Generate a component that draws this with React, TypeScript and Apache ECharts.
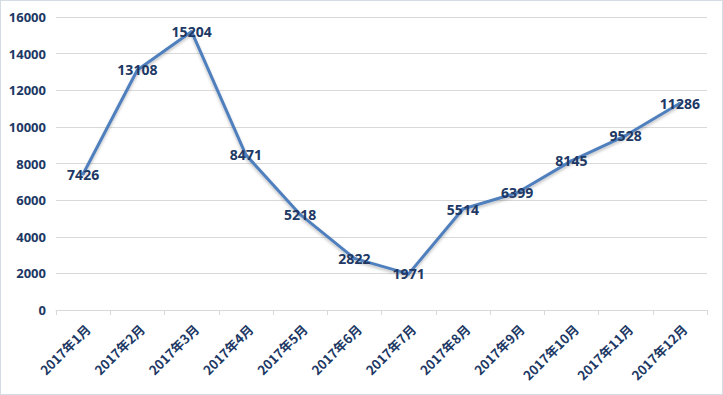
import React, { useEffect, useRef } from "react";
import * as echarts from "echarts";

const categories = ["2017年1月", "2017年2月", "2017年3月", "2017年4月", "2017年5月", "2017年6月", "2017年7月", "2017年8月", "2017年9月", "2017年10月", "2017年11月", "2017年12月"];
const values = [7426, 13108, 15204, 8471, 5218, 2822, 1971, 5514, 6399, 8145, 9528, 11286];

export default function App() {
  const ref = useRef<HTMLDivElement>(null);
  useEffect(() => {
    document.body.style.margin = "0";
    const chart = echarts.init(ref.current!, null, { renderer: "svg" });
    const textColor = "#203864";
    chart.setOption({
      animation: false,
      backgroundColor: "#ffffff",
      grid: { left: 55, right: 15, top: 16, bottom: 84, containLabel: false },
      xAxis: {
        type: "category",
        data: categories,
        boundaryGap: true,
        axisLine: { lineStyle: { color: "#d9d9d9", width: 1 } },
        axisTick: { show: true, alignWithLabel: false, length: 5, lineStyle: { color: "#d9d9d9" } },
        axisLabel: {
          rotate: 45,
          interval: 0,
          color: textColor,
          fontWeight: "bold",
          fontSize: 13,
          fontFamily: "Noto Sans CJK SC, sans-serif",
          margin: 12,
          verticalAlign: "top",
        },
      },
      yAxis: {
        type: "value",
        min: 0,
        max: 16000,
        interval: 2000,
        axisLine: { show: false },
        axisTick: { show: false },
        splitLine: { lineStyle: { color: "#d9d9d9", width: 1 } },
        axisLabel: {
          color: textColor,
          fontWeight: "bold",
          fontSize: 13,
          fontFamily: "Noto Sans, sans-serif",
          margin: 10,
          formatter: (v: number) => String(v),
        },
      },
      series: [
        {
          type: "line",
          data: values,
          symbol: "circle",
          symbolSize: 3,
          showSymbol: true,
          itemStyle: { color: "#4f7fbd" },
          lineStyle: {
            color: "#4f7fbd",
            width: 3,
            shadowColor: "rgba(0,0,0,0.25)",
            shadowBlur: 3,
            shadowOffsetY: 2,
          },
          label: {
            show: true,
            position: "inside",
            color: textColor,
            fontWeight: "bold",
            fontSize: 14,
            fontFamily: "Noto Sans, sans-serif",
          },
        },
      ],
    });
    return () => chart.dispose();
  }, []);
  return (
    <div style={{ position: "absolute", left: 0, top: 0, width: 723, height: 395, border: "1px solid #d6dce5", boxSizing: "border-box" }}>
      <div ref={ref} style={{ width: 721, height: 393 }} />
    </div>
  );
}
